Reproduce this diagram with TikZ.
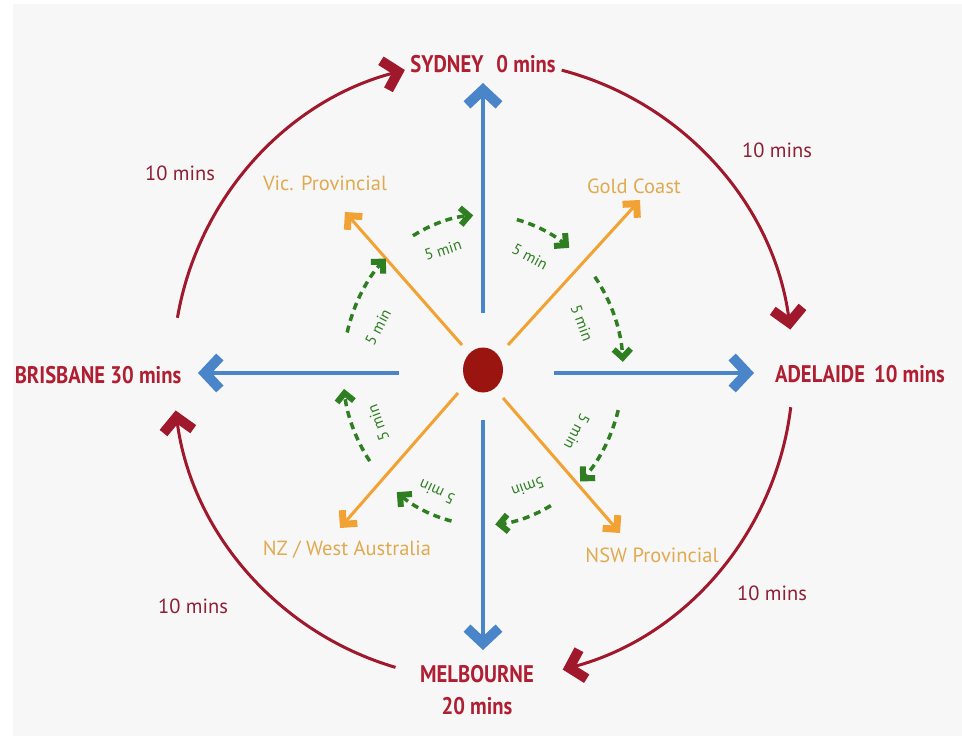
\documentclass[tikz,border=0pt]{standalone}
\usepackage{fontspec}
\setmainfont{PT Sans}
\newfontfamily\redfont[FakeStretch=0.86]{PT Sans}
\usetikzlibrary{arrows.meta,shapes.geometric}
\definecolor{bgcol}{HTML}{F7F7F7}
\definecolor{redtxt}{HTML}{B01E32}
\definecolor{redarcC}{HTML}{A0182C}
\definecolor{minsred}{HTML}{8E2035}
\definecolor{blueC}{HTML}{4A85C9}
\definecolor{orangeC}{HTML}{F2A232}
\definecolor{orangeT}{HTML}{E0AA50}
\definecolor{greenC}{HTML}{2F7F22}
\definecolor{hubC}{HTML}{9A1410}
\tikzset{
  bluearr/.style={draw=blueC, line width=4.5pt, -{Straight Barb[length=15pt,width=32pt,line width=10pt,sharp]}},
  redarc/.style={draw=redarcC, line width=3pt, -{Straight Barb[length=14pt,width=30pt,line width=10pt,sharp]}},
  orarr/.style={draw=orangeC, line width=3pt, -{Straight Barb[length=10pt,width=20pt,line width=7pt,sharp]}},
  grarr/.style={draw=greenC, line width=3.5pt, dash pattern=on 7pt off 5pt, -{Straight Barb[length=8.5pt,width=17pt,line width=6pt,sharp]}},
  citylab/.style={text=redtxt, font=\redfont\bfseries\fontsize{24}{32}\selectfont, inner sep=0pt, anchor=base},
  minslab/.style={text=minsred, font=\fontsize{20.5}{24}\selectfont, inner sep=0pt, anchor=base},
  provlab/.style={text=orangeT, font=\fontsize{20.5}{24}\selectfont, inner sep=0pt, anchor=base},
  fivelab/.style={text=greenC, font=\fontsize{15.5}{17}\selectfont, inner sep=0pt},
  hub/.style={ellipse, fill=hubC, minimum width=40pt, minimum height=45pt, inner sep=0pt}
}
\begin{document}
\begin{tikzpicture}[x=1pt,y=1pt]
\useasboundingbox (0,0) rectangle (962,-736);
\fill[white] (0,0) rectangle (962,-736);
\fill[bgcol] (13,-4) rectangle (962,-736);

% hub
\node[hub] (hub) at (483,-370) {};

% city labels
\node[citylab] (syd) at (483,-72) {SYDNEY\hspace{13pt}0 mins};
\node[citylab] (ade) at (860,-382) {ADELAIDE\hspace{9pt}10 mins};
\node[citylab] (bri) at (98,-383) {BRISBANE 30 mins};
\node[citylab, anchor=center, align=center] (mel) at (477,-690) {MELBOURNE\\20 mins};

% province labels
\node[provlab] (vic) at (325,-190) {Vic. Provincial};
\node[provlab] (gold) at (634,-193) {Gold Coast};
\node[provlab] (nz) at (347,-555) {NZ / West Australia};
\node[provlab] (nsw) at (652,-562) {NSW Provincial};

% 10 mins labels
\node[minslab] (m1) at (180,-180) {10 mins};
\node[minslab] (m2) at (777,-157) {10 mins};
\node[minslab] (m3) at (772,-600) {10 mins};
\node[minslab] (m4) at (193,-613) {10 mins};

% blue arrows
\coordinate (bN0) at (483,-313); \coordinate (bN1) at (483,-83);
\coordinate (bS0) at (483,-420); \coordinate (bS1) at (483,-650);
\coordinate (bW0) at (399,-373); \coordinate (bW1) at (198,-373);
\coordinate (bE0) at (554,-373); \coordinate (bE1) at (754,-373);
\draw[bluearr] (bN0) -- (bN1);
\draw[bluearr] (bS0) -- (bS1);
\draw[bluearr] (bW0) -- (bW1);
\draw[bluearr] (bE0) -- (bE1);

% orange arrows
\coordinate (oUL0) at (462,-345); \coordinate (oUL1) at (345,-212);
\coordinate (oUR0) at (508,-345); \coordinate (oUR1) at (640,-200);
\coordinate (oLL0) at (458,-393); \coordinate (oLL1) at (340,-528);
\coordinate (oLR0) at (503,-398); \coordinate (oLR1) at (620,-533);
\draw[orarr] (oUL0) -- (oUL1);
\draw[orarr] (oUR0) -- (oUR1);
\draw[orarr] (oLL0) -- (oLL1);
\draw[orarr] (oLR0) -- (oLR1);

% red arcs
\coordinate (r1) at ([shift={(170.3:310)}]483,-370);
\coordinate (r2) at ([shift={(75.3:310)}]483,-370);
\coordinate (r3) at ([shift={(-6.9:310)}]483,-370);
\coordinate (r4) at ([shift={(-106.4:310)}]483,-370);
\draw[redarc] (r1) arc[start angle=170.3, end angle=104.6, radius=310];
\draw[redarc] (r2) arc[start angle=75.3, end angle=7.5, radius=310];
\draw[redarc] (r3) arc[start angle=-6.9, end angle=-75.1, radius=310];
\draw[redarc] (r4) arc[start angle=-106.4, end angle=-172.5, radius=310];

% green arcs
\foreach \i/\a/\b in {1/120/94, 2/76/52, 3/37/3, 4/-15/-46, 5/-61/-85, 6/-103/-128, 7/-144/-173, 8/166/134}{
  \coordinate (g\i) at ([shift={(\a:140 and 155)}]483,-370);
  \draw[grarr] (g\i) arc[start angle=\a, end angle=\b, x radius=140, y radius=155];
}

% green labels
\node[fivelab, rotate=18]  (f1) at (443,-250) {5 min};
\node[fivelab, rotate=-28] (f2) at (530,-257) {5 min};
\node[fivelab, rotate=-70] (f3) at (582,-323) {5 min};
\node[fivelab, rotate=-118] (f4) at (577,-432) {5 min};
\node[fivelab, rotate=-160] (f5) at (528,-487) {5min};
\node[fivelab, rotate=155] (f6) at (437,-492) {5 min};
\node[fivelab, rotate=110] (f7) at (378,-423) {5 min};
\node[fivelab, rotate=62]  (f8) at (378,-327) {5 min};
\end{tikzpicture}
\end{document}
